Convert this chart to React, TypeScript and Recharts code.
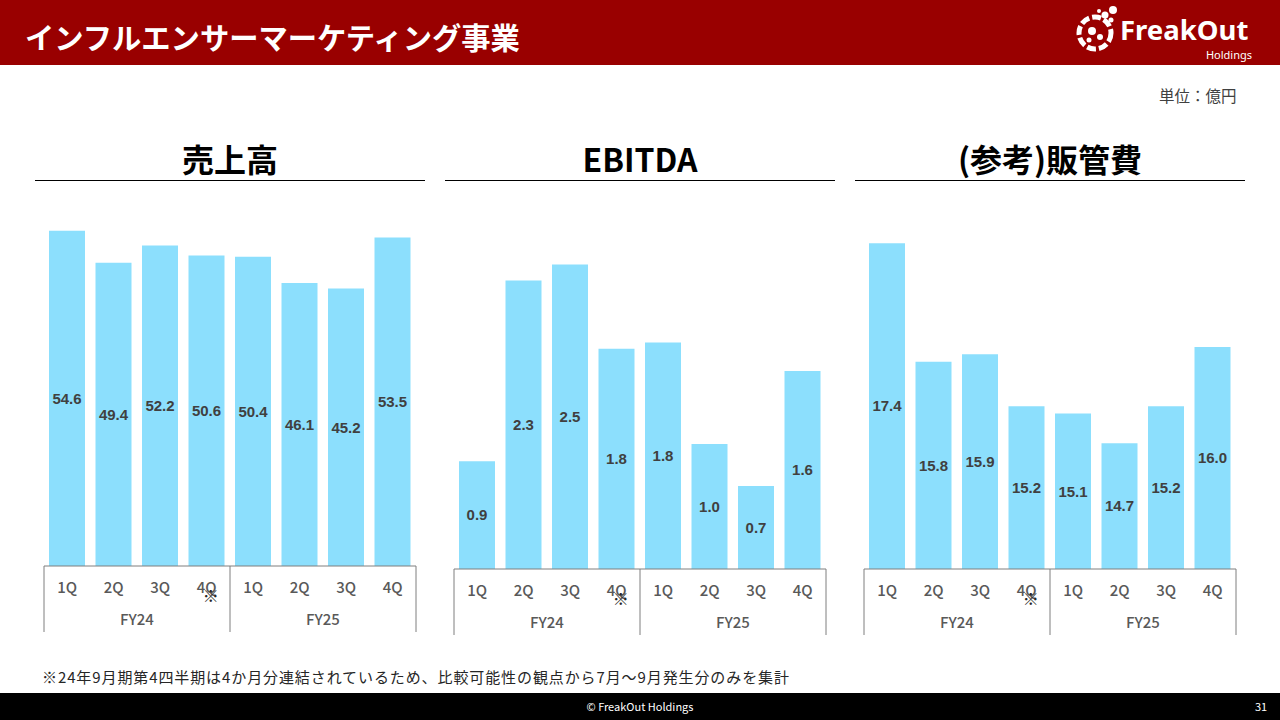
import { Bar, BarChart, LabelList, XAxis, YAxis } from 'recharts';

const quarters = ['1Q', '2Q', '3Q', '4Q', '1Q', '2Q', '3Q', '4Q'];
const fiscalYears = ['FY24', 'FY24', 'FY24', 'FY24', 'FY25', 'FY25', 'FY25', 'FY25'];

// 億円
const salesValues = [54.6, 49.4, 52.2, 50.6, 50.4, 46.1, 45.2, 53.5];
const ebitdaValues = [0.87, 2.33, 2.46, 1.78, 1.83, 1.01, 0.67, 1.6];
const sgaValues = [17.4, 15.8, 15.9, 15.2, 15.1, 14.7, 15.2, 16.0];

const JP = '"Noto Sans CJK JP", "Noto Sans", sans-serif';
const BAR = '#8cdffd';
const AXIS = '#7f7f7f';
const PLOT_TOP = 210;
const PLOT_W = 372;
const M = { top: 20, left: 20, right: 20, bottom: 4 };

const toRows = (values: number[]) =>
  values.map((v, i) => ({ q: quarters[i], fy: fiscalYears[i], v }));

type PanelProps = {
  title: string;
  plotLeft: number;
  baseline: number;
  values: number[];
  domain: [number, number];
};

const Panel = ({ title, plotLeft, baseline, values, domain }: PanelProps) => {
  const plotH = baseline - PLOT_TOP;
  const height = M.top + plotH + 66 + M.bottom;
  const baseY = M.top + plotH;
  const band = PLOT_W / 8;

  const QuarterTick = (p: any) => {
    const { x, index, payload } = p;
    return (
      <g>
        <text
          x={x}
          y={baseY + 23}
          textAnchor="middle"
          dominantBaseline="middle"
          fontFamily={JP}
          fontSize={15}
          fontWeight={500}
          fill="#595959"
        >
          {payload.value}
        </text>
        {index === 3 && (
          <text
            x={x + 4}
            y={baseY + 32}
            textAnchor="middle"
            dominantBaseline="middle"
            fontFamily={JP}
            fontSize={16}
            fill="#262626"
          >
            ※
          </text>
        )}
        {(index === 0 || index === 4) && (
          <line x1={x - band / 2} x2={x - band / 2} y1={baseY} y2={baseY + 66} stroke={AXIS} />
        )}
        {index === 7 && (
          <line x1={x + band / 2} x2={x + band / 2} y1={baseY} y2={baseY + 66} stroke={AXIS} />
        )}
      </g>
    );
  };

  const YearTick = (p: any) => (
    <text
      x={p.x}
      y={baseY + 55}
      textAnchor="middle"
      dominantBaseline="middle"
      fontFamily={JP}
      fontSize={15}
      fontWeight={500}
      fill="#595959"
    >
      {p.payload.value}
    </text>
  );

  return (
    <>
      <div
        style={{
          position: 'absolute',
          left: plotLeft - 9,
          width: 390,
          top: 136,
          height: 44,
          borderBottom: '1.5px solid #000',
          textAlign: 'center',
          fontFamily: JP,
          fontWeight: 700,
          fontSize: 32,
          lineHeight: '44px',
          color: '#000',
        }}
      >
        {title}
      </div>
      <div style={{ position: 'absolute', left: plotLeft - M.left, top: PLOT_TOP - M.top }}>
        <BarChart width={PLOT_W + M.left + M.right} height={height} data={toRows(values)} margin={M}>
          <YAxis hide domain={domain} allowDataOverflow />
          <XAxis
            dataKey="q"
            interval={0}
            height={32}
            tickLine={false}
            axisLine={{ stroke: AXIS }}
            tick={QuarterTick}
          />
          <XAxis
            xAxisId="fy"
            dataKey="fy"
            allowDuplicatedCategory={false}
            interval={0}
            height={34}
            tickLine={false}
            axisLine={false}
            tick={YearTick}
          />
          <Bar dataKey="v" fill={BAR} barSize={36} isAnimationActive={false}>
            <LabelList
              dataKey="v"
              position="center"
              formatter={(v: any) => Number(v).toFixed(1)}
              fill="#404040"
              fontFamily='"Liberation Sans", Arial, sans-serif'
              fontWeight={700}
              fontSize={15}
            />
          </Bar>
        </BarChart>
      </div>
    </>
  );
};

const Logo = () => (
  <svg width={200} height={65} style={{ position: 'absolute', left: 1065, top: 0 }}>
    <g fill="#fff">
      <circle cx={30} cy={33} r={16} fill="none" stroke="#fff" strokeWidth={5} strokeDasharray="9 3" />
      <circle cx={27} cy={31} r={4} />
      <circle cx={35} cy={37} r={3} />
      <circle cx={24} cy={40} r={2.5} />
      <circle cx={40} cy={15} r={3.5} />
      <circle cx={48} cy={10} r={4} />
      <circle cx={46} cy={20} r={2.5} />
      <circle cx={34} cy={11} r={2} />
    </g>
    <text x={55} y={40} fontFamily='"Noto Sans", sans-serif' fontWeight={700} fontSize={27.5} fill="#fff">
      FreakOut
    </text>
    <text x={187} y={59} textAnchor="end" fontFamily='"Noto Sans", sans-serif' fontSize={11} fill="#fff">
      Holdings
    </text>
  </svg>
);

export default function App() {
  return (
    <div
      style={{
        position: 'absolute',
        left: 0,
        top: 0,
        width: 1280,
        height: 720,
        background: '#fff',
        overflow: 'hidden',
        fontFamily: JP,
      }}
    >
      <div style={{ position: 'absolute', left: 0, top: 0, width: 1280, height: 65, background: '#990000' }} />
      <div
        style={{
          position: 'absolute',
          left: 25,
          top: 15,
          fontSize: 29.3,
          fontWeight: 700,
          color: '#fff',
          lineHeight: '42px',
          whiteSpace: 'nowrap',
        }}
      >
        インフルエンサーマーケティング事業
      </div>
      <Logo />

      <div style={{ position: 'absolute', left: 1159, top: 85, fontSize: 15.5, color: '#404040', lineHeight: '20px' }}>
        単位：億円
      </div>

      <Panel title="売上高" plotLeft={44} baseline={566} values={salesValues} domain={[0, 58]} />
      <Panel title="EBITDA" plotLeft={454} baseline={569} values={ebitdaValues} domain={[0, 2.9]} />
      <Panel title="(参考)販管費" plotLeft={864} baseline={569} values={sgaValues} domain={[13, 17.85]} />

      <div
        style={{
          position: 'absolute',
          left: 42,
          top: 667,
          fontSize: 15,
          letterSpacing: 0.9,
          color: '#262626',
          lineHeight: '20px',
          whiteSpace: 'nowrap',
        }}
      >
        ※24年9月期第4四半期は4か月分連結されているため、比較可能性の観点から7月～9月発生分のみを集計
      </div>

      <div style={{ position: 'absolute', left: 0, top: 693, width: 1280, height: 27, background: '#000' }} />
      <div
        style={{
          position: 'absolute',
          left: 0,
          width: 1280,
          top: 698,
          textAlign: 'center',
          fontSize: 11,
          color: '#fff',
          lineHeight: '16px',
        }}
      >
        © FreakOut Holdings
      </div>
      <div style={{ position: 'absolute', left: 1255, top: 698, fontSize: 11, color: '#fff', lineHeight: '16px' }}>
        31
      </div>
    </div>
  );
}
